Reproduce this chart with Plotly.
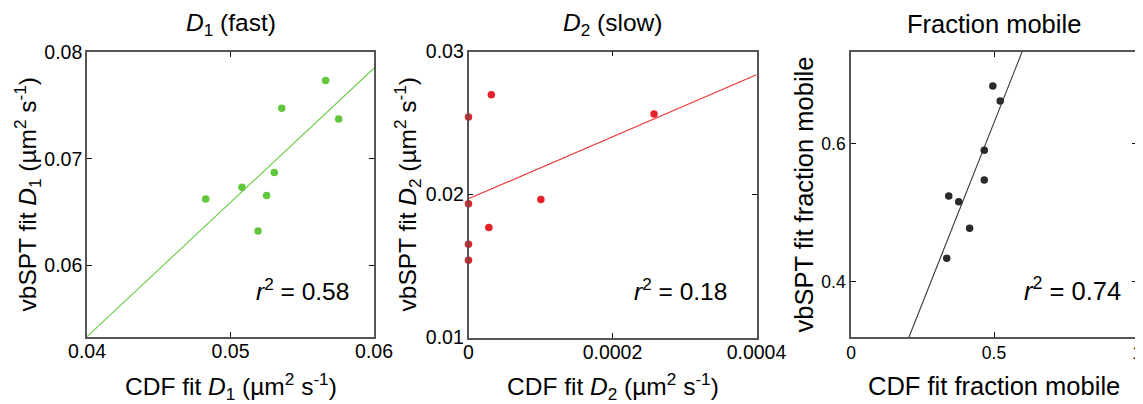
import numpy as np
import plotly.graph_objects as go

# The page body has a default 8 px margin, so the figure is drawn 8 px in from the window edge.
OFF = 8
W, H = 1143 - OFF, 404 - OFF

# ---------------- data ----------------
d1_cdf = [0.04827, 0.05080, 0.05192, 0.05252, 0.05305, 0.05357, 0.05663, 0.05754]
d1_vb = [0.06624, 0.06733, 0.06322, 0.06655, 0.06872, 0.07472, 0.07733, 0.07373]

d2_cdf = [0.0, 0.0, 0.0, 0.0, 0.0000317, 0.0000283, 0.0001005, 0.0002577]
d2_vb = [0.02542, 0.01935, 0.01652, 0.01540, 0.02698, 0.01770, 0.01965, 0.02563]

fm_cdf = [0.4958, 0.5216, 0.4660, 0.4660, 0.3418, 0.3766, 0.4148, 0.3348]
fm_vb = [0.6833, 0.6616, 0.5903, 0.5469, 0.5238, 0.5155, 0.4771, 0.4337]

r2_labels = ["0.58", "0.18", "0.74"]

d1_xticks = [0.04, 0.05, 0.06]
d1_xticklabels = ["0.04", "0.05", "0.06"]
d1_yticks = [0.06, 0.07, 0.08]
d1_yticklabels = ["0.06", "0.07", "0.08"]
d2_xticks = [0.0, 0.0002, 0.0004]
d2_xticklabels = ["0", "0.0002", "0.0004"]
d2_yticks = [0.01, 0.02, 0.03]
d2_yticklabels = ["0.01", "0.02", "0.03"]
fm_xticks = [0.0, 0.5, 1.0]
fm_xticklabels = ["0", "0.5", "1"]
fm_yticks = [0.4, 0.6]
fm_yticklabels = ["0.4", "0.6"]

# ---------------- layout geometry (window pixels) ----------------
panels = [
    dict(x0=87, x1=374, y0=52, y1=337, xr=[0.04, 0.06], yr=[0.0533, 0.08],
         xs=d1_cdf, ys=d1_vb, color="#62c73c", lcolor="#66cc44",
         xt=d1_xticks, xtl=d1_xticklabels, yt=d1_yticks, ytl=d1_yticklabels,
         title="<i>D</i><sub>1</sub> (fast)",
         xtitle="CDF fit <i>D</i><sub>1</sub> (µm<sup>2</sup> s<sup>-1</sup>)",
         ytitle="vbSPT fit <i>D</i><sub>1</sub> (µm<sup>2</sup> s<sup>-1</sup>)",
         ytx=27, r2x=351, tick=19.5, tfs=24.5, tsx=-1, tsy=-4),
    dict(x0=468.5, x1=756.5, y0=51.5, y1=337.5, xr=[0.0, 0.0004], yr=[0.01, 0.03],
         xs=d2_cdf, ys=d2_vb, color="#e8222b", lcolor="#ee3333",
         xt=d2_xticks, xtl=d2_xticklabels, yt=d2_yticks, ytl=d2_yticklabels,
         title="<i>D</i><sub>2</sub> (slow)",
         xtitle="CDF fit <i>D</i><sub>2</sub> (µm<sup>2</sup> s<sup>-1</sup>)",
         ytitle="vbSPT fit <i>D</i><sub>2</sub> (µm<sup>2</sup> s<sup>-1</sup>)",
         ytx=407, r2x=729, tick=19.5, tfs=24.5, tsx=-1, tsy=-4),
    dict(x0=851, x1=1137, y0=52, y1=337, xr=[0.0, 1.0], yr=[0.3196, 0.7325],
         xs=fm_cdf, ys=fm_vb, color="#2b2b2b", lcolor="#333333",
         xt=fm_xticks, xtl=fm_xticklabels, yt=fm_yticks, ytl=fm_yticklabels,
         title="Fraction mobile",
         xtitle="CDF fit fraction mobile",
         ytitle="vbSPT fit fraction mobile",
         ytx=803, r2x=1123, tick=17.5, tfs=25.5, tsx=0, tsy=-1),
]

FONT = "Arial, Liberation Sans, Helvetica, sans-serif"


def px(x):
    return (x - OFF) / W


def py(y):
    return 1 - (y - OFF) / H


fig = go.Figure()
annotations = []
layout_axes = {}

for i, p in enumerate(panels, start=1):
    xa = "x" if i == 1 else f"x{i}"
    ya = "y" if i == 1 else f"y{i}"
    xs = np.array(p["xs"])
    ys = np.array(p["ys"])
    slope, intercept = np.polyfit(xs, ys, 1)
    lx = np.array(p["xr"])
    ly = slope * lx + intercept

    fig.add_trace(go.Scatter(x=lx, y=ly, mode="lines", xaxis=xa, yaxis=ya,
                             line=dict(color=p["lcolor"], width=1.1),
                             showlegend=False, hoverinfo="skip"))
    fig.add_trace(go.Scatter(x=xs, y=ys, mode="markers", xaxis=xa, yaxis=ya,
                             marker=dict(color=p["color"], size=7.5, line=dict(width=0)),
                             cliponaxis=False, showlegend=False))

    axcommon = dict(showline=True, linecolor="#555555", linewidth=1.6, mirror="ticks",
                    ticks="inside", ticklen=5, tickwidth=1, tickcolor="#111111",
                    showgrid=False, zeroline=False, automargin=False,
                    ticklabeloverflow="allow",
                    tickfont=dict(family=FONT, size=p["tick"], color="#000000"))
    layout_axes["xaxis" if i == 1 else f"xaxis{i}"] = dict(
        domain=[px(p["x0"]), px(p["x1"])], range=p["xr"], anchor=ya,
        tickmode="array", tickvals=p["xt"], ticktext=p["xtl"],
        ticklabelstandoff=p["tsy"], **axcommon)
    layout_axes["yaxis" if i == 1 else f"yaxis{i}"] = dict(
        domain=[py(p["y1"]), py(p["y0"])], range=p["yr"], anchor=xa,
        tickmode="array", tickvals=p["yt"], ticktext=p["ytl"],
        ticklabelstandoff=p["tsx"], **axcommon)

    cx = (p["x0"] + p["x1"]) / 2
    cy = (p["y0"] + p["y1"]) / 2
    tf = dict(family=FONT, size=p["tfs"], color="#000000")
    annotations.append(dict(text=p["title"], x=px(cx), y=py(24), xref="paper", yref="paper",
                            xanchor="center", yanchor="middle", showarrow=False, font=tf))
    annotations.append(dict(text=p["xtitle"], x=px(cx), y=py(386), xref="paper", yref="paper",
                            xanchor="center", yanchor="middle", showarrow=False, font=tf))
    annotations.append(dict(text=p["ytitle"], x=px(p["ytx"]), y=py(cy), xref="paper", yref="paper",
                            xanchor="center", yanchor="middle", textangle=-90,
                            showarrow=False, font=tf))
    annotations.append(dict(text="<i>r</i><sup>2</sup> = " + r2_labels[i - 1],
                            x=px(p["r2x"]), y=py(289), xref="paper", yref="paper",
                            xanchor="right", yanchor="middle", showarrow=False, font=tf))

fig.update_layout(width=W, height=H, margin=dict(l=0, r=0, t=0, b=0, autoexpand=False),
                  paper_bgcolor="white", plot_bgcolor="white",
                  annotations=annotations, showlegend=False, **layout_axes)

fig.write_html("out.html", post_script="document.body.style.overflow = 'hidden';")
